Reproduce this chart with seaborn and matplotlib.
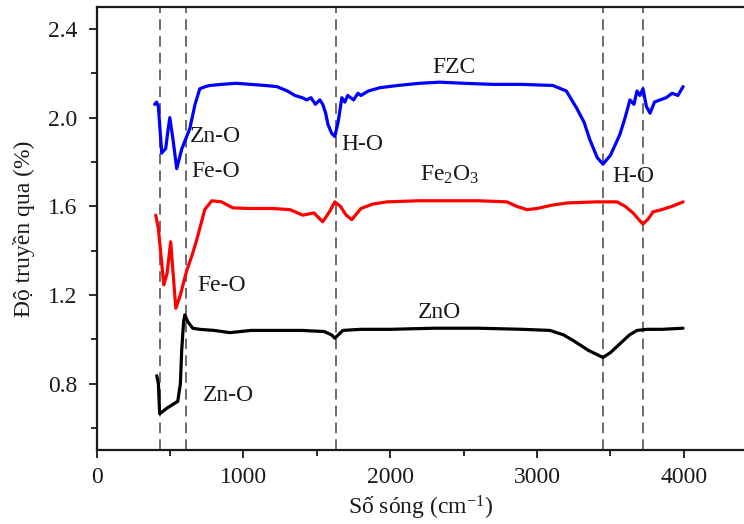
import numpy as np
import pandas as pd
import matplotlib
matplotlib.use("Agg")
import matplotlib.pyplot as plt
import seaborn as sns

# ---- data ----
fzc_x = [395, 408, 420, 443, 455, 470, 485, 498, 520, 545, 580, 634, 670, 702, 740, 770, 850, 950, 1050, 1150, 1227,
         1300, 1350, 1400, 1431, 1460, 1490, 1520, 1540, 1560, 1575, 1600, 1622, 1645, 1670, 1690, 1710, 1750,
         1780, 1800, 1850, 1929, 2050, 2200, 2338, 2500, 2700, 2900, 3108, 3200, 3272, 3320, 3360, 3410, 3449,
         3500, 3565, 3600, 3633, 3660, 3681, 3700, 3722, 3745, 3770, 3800, 3838, 3880, 3920, 3960, 3995]
fzc_y = [2.06, 2.07, 2.05, 1.84, 1.85, 1.86, 1.94, 2.00, 1.90, 1.77, 1.86, 1.95, 2.06, 2.13, 2.14, 2.145, 2.15, 2.155, 2.15, 2.145, 2.14,
         2.12, 2.10, 2.09, 2.08, 2.09, 2.06, 2.08, 2.06, 2.02, 1.97, 1.93, 1.915, 1.98, 2.09, 2.07, 2.10, 2.08,
         2.11, 2.10, 2.12, 2.135, 2.145, 2.155, 2.16, 2.155, 2.15, 2.15, 2.145, 2.12, 2.04, 1.98, 1.90, 1.82, 1.79,
         1.83, 1.925, 2.00, 2.08, 2.06, 2.12, 2.10, 2.13, 2.05, 2.02, 2.07, 2.08, 2.09, 2.11, 2.10, 2.14]

fe_x = [402, 420, 457, 480, 504, 520, 539, 570, 613, 650, 682, 736, 784, 850, 927, 1050, 1200, 1316,
        1404, 1480, 1540, 1590, 1622, 1660, 1700, 1738, 1800, 1880, 1977, 2200, 2400, 2600, 2795, 2860,
        2931, 3000, 3100, 3204, 3400, 3545, 3600, 3654, 3700, 3722, 3760, 3790, 3850, 3920, 3995]
fe_y = [1.56, 1.50, 1.245, 1.30, 1.44, 1.30, 1.14, 1.20, 1.31, 1.38, 1.45, 1.585, 1.625, 1.62, 1.593, 1.59, 1.59, 1.585,
        1.56, 1.57, 1.53, 1.58, 1.62, 1.60, 1.56, 1.54, 1.59, 1.61, 1.62, 1.625, 1.625, 1.625, 1.62, 1.60,
        1.585, 1.59, 1.605, 1.615, 1.62, 1.62, 1.60, 1.57, 1.535, 1.52, 1.545, 1.575, 1.585, 1.60, 1.62]

zno_x = [409, 420, 429, 480, 552, 570, 579, 592, 600, 620, 654, 700, 800, 907, 1050, 1200, 1400, 1550,
         1600, 1622, 1677, 1800, 2000, 2300, 2600, 2900, 3088, 3180, 3245, 3350, 3449, 3500, 3565, 3630,
         3681, 3750, 3850, 3995]
zno_y = [0.836, 0.80, 0.664, 0.69, 0.72, 0.80, 0.95, 1.08, 1.11, 1.08, 1.05, 1.045, 1.04, 1.03, 1.04, 1.04, 1.04, 1.035,
         1.02, 1.005, 1.04, 1.045, 1.045, 1.05, 1.05, 1.045, 1.04, 1.02, 0.995, 0.95, 0.918, 0.94, 0.98, 1.02,
         1.04, 1.045, 1.045, 1.05]

peak_lines = [429, 607, 1629, 3449, 3722]

labels = ["FZC", "Zn-O", "Fe-O", "H-O", "Fe$_2$O$_3$", "H-O", "Fe-O", "ZnO", "Zn-O"]
label_x = [2284, 634, 648, 1670, 2202, 3510, 688, 2188, 723]
label_y = [2.228, 1.915, 1.756, 1.879, 1.743, 1.734, 1.244, 1.122, 0.745]

# ---- styling ----
sns.set_theme(style="ticks")
plt.rcParams["font.family"] = ["Liberation Serif", "DejaVu Serif"]
plt.rcParams["mathtext.fontset"] = "custom"
plt.rcParams["mathtext.rm"] = "Liberation Serif"
plt.rcParams["mathtext.it"] = "Liberation Serif:italic"

FS = 17
TXT = "#1a1a1a"

fig = plt.figure(figsize=(7.44, 5.24), dpi=100)
ax = fig.add_axes([0.130, 0.141, 0.870, 0.846])

df = pd.concat([
    pd.DataFrame({"x": fzc_x, "y": fzc_y, "s": "FZC"}),
    pd.DataFrame({"x": fe_x, "y": fe_y, "s": "Fe2O3"}),
    pd.DataFrame({"x": zno_x, "y": zno_y, "s": "ZnO"}),
])
sns.lineplot(data=df, x="x", y="y", hue="s", palette={"FZC": "#0000ff", "Fe2O3": "#ff0000", "ZnO": "#000000"},
             linewidth=2.3, legend=False, ax=ax, sort=False, estimator=None)

for px in peak_lines:
    ax.axvline(px, color="#444444", linestyle=(0, (7, 4)), linewidth=1.1, zorder=0)

for t, x, y in zip(labels, label_x, label_y):
    ax.text(x, y, t, fontsize=FS, color=TXT, ha="left", va="center")

ax.set_xlim(0, 4410)
ax.set_ylim(0.5, 2.5)
ax.set_xticks([0, 1000, 2000, 3000, 4000])
ax.set_xticks([500, 1500, 2500, 3500], minor=True)
ax.set_yticks([0.8, 1.2, 1.6, 2.0, 2.4])
ax.set_yticks([0.6, 1.0, 1.4, 1.8, 2.2], minor=True)
ax.set_yticklabels(["0.8", "1.2", "1.6", "2.0", "2.4"])
ax.tick_params(axis="both", which="major", labelsize=FS, length=6, width=1.3, direction="out", colors=TXT)
ax.tick_params(axis="y", which="major", pad=8)
ax.tick_params(axis="x", which="major", pad=6)
ax.tick_params(axis="both", which="minor", length=4, width=1.3, direction="out", colors=TXT)
for s in ["left", "bottom", "top"]:
    ax.spines[s].set_linewidth(1.6)
    ax.spines[s].set_color(TXT)
ax.spines["right"].set_visible(False)

ax.set_xlabel("Số sóng (cm$^{-1}$)", fontsize=FS, color=TXT, labelpad=4)
ax.set_ylabel("Độ truyền qua (%)", fontsize=FS, color=TXT, labelpad=9)

fig.savefig("out.png", dpi=100)
